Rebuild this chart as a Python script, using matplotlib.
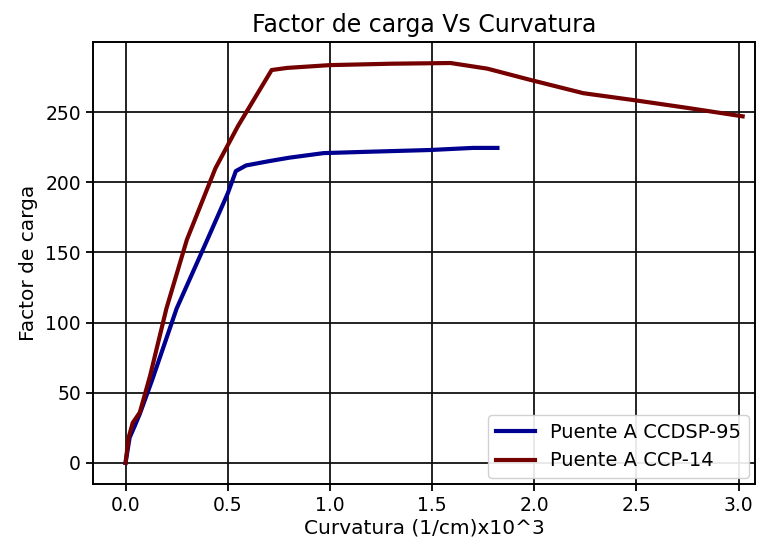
import matplotlib

matplotlib.use("Agg")
import matplotlib.pyplot as plt

# ---------- datos (curvatura x10^3, factor de carga) ----------
curv_ccdsp95 = [0.0, 0.02, 0.044, 0.07, 0.13, 0.25, 0.40, 0.50, 0.54, 0.59, 0.70,
                0.80, 0.97, 1.20, 1.49, 1.70, 1.82]
carga_ccdsp95 = [0.0, 18.0, 26.0, 35.0, 59.0, 110.0, 159.0, 192.0, 208.0, 212.0, 215.0,
                 217.5, 220.8, 221.8, 223.0, 224.5, 224.5]

curv_ccp14 = [0.0, 0.015, 0.035, 0.07, 0.12, 0.20, 0.30, 0.44, 0.55, 0.715, 0.79,
              1.00, 1.30, 1.59, 1.77, 1.98, 2.24, 2.49, 2.75, 3.02]
carga_ccp14 = [0.0, 18.0, 28.5, 36.0, 62.0, 110.0, 159.0, 210.0, 240.0, 280.0, 281.5,
               283.5, 284.5, 285.0, 281.0, 273.0, 263.5, 258.5, 253.0, 247.0]


def main():
    fig, ax = plt.subplots(figsize=(7.61, 5.45), dpi=100)

    ax.plot(curv_ccdsp95, carga_ccdsp95, color="#000090", lw=3.0,
            label="Puente A CCDSP-95")
    ax.plot(curv_ccp14, carga_ccp14, color="#750000", lw=3.0,
            label="Puente A CCP-14")

    ax.set_title("Factor de carga Vs Curvatura", fontsize=17, pad=7)
    ax.set_xlabel("Curvatura (1/cm)x10^3", fontsize=14.5, labelpad=3)
    ax.set_ylabel("Factor de carga", fontsize=14.5, labelpad=5)
    ax.tick_params(labelsize=13.5, width=1.3, length=5)

    ax.set_xlim(-0.16, 3.08)
    ax.set_ylim(-15, 300)
    ax.set_xticks([0.0, 0.5, 1.0, 1.5, 2.0, 2.5, 3.0])
    ax.set_yticks([0, 50, 100, 150, 200, 250])
    ax.grid(True, color="#111111", lw=1.3)
    for s in ax.spines.values():
        s.set_color("black")
        s.set_linewidth(1.4)

    ax.legend(loc="lower right", fontsize=14, framealpha=0.9,
              handlelength=2.0, borderaxespad=0.3)

    fig.subplots_adjust(left=0.122, right=0.992, top=0.923, bottom=0.112)
    fig.savefig("out.png", dpi=100, facecolor="white")
    plt.close(fig)


if __name__ == "__main__":
    main()
